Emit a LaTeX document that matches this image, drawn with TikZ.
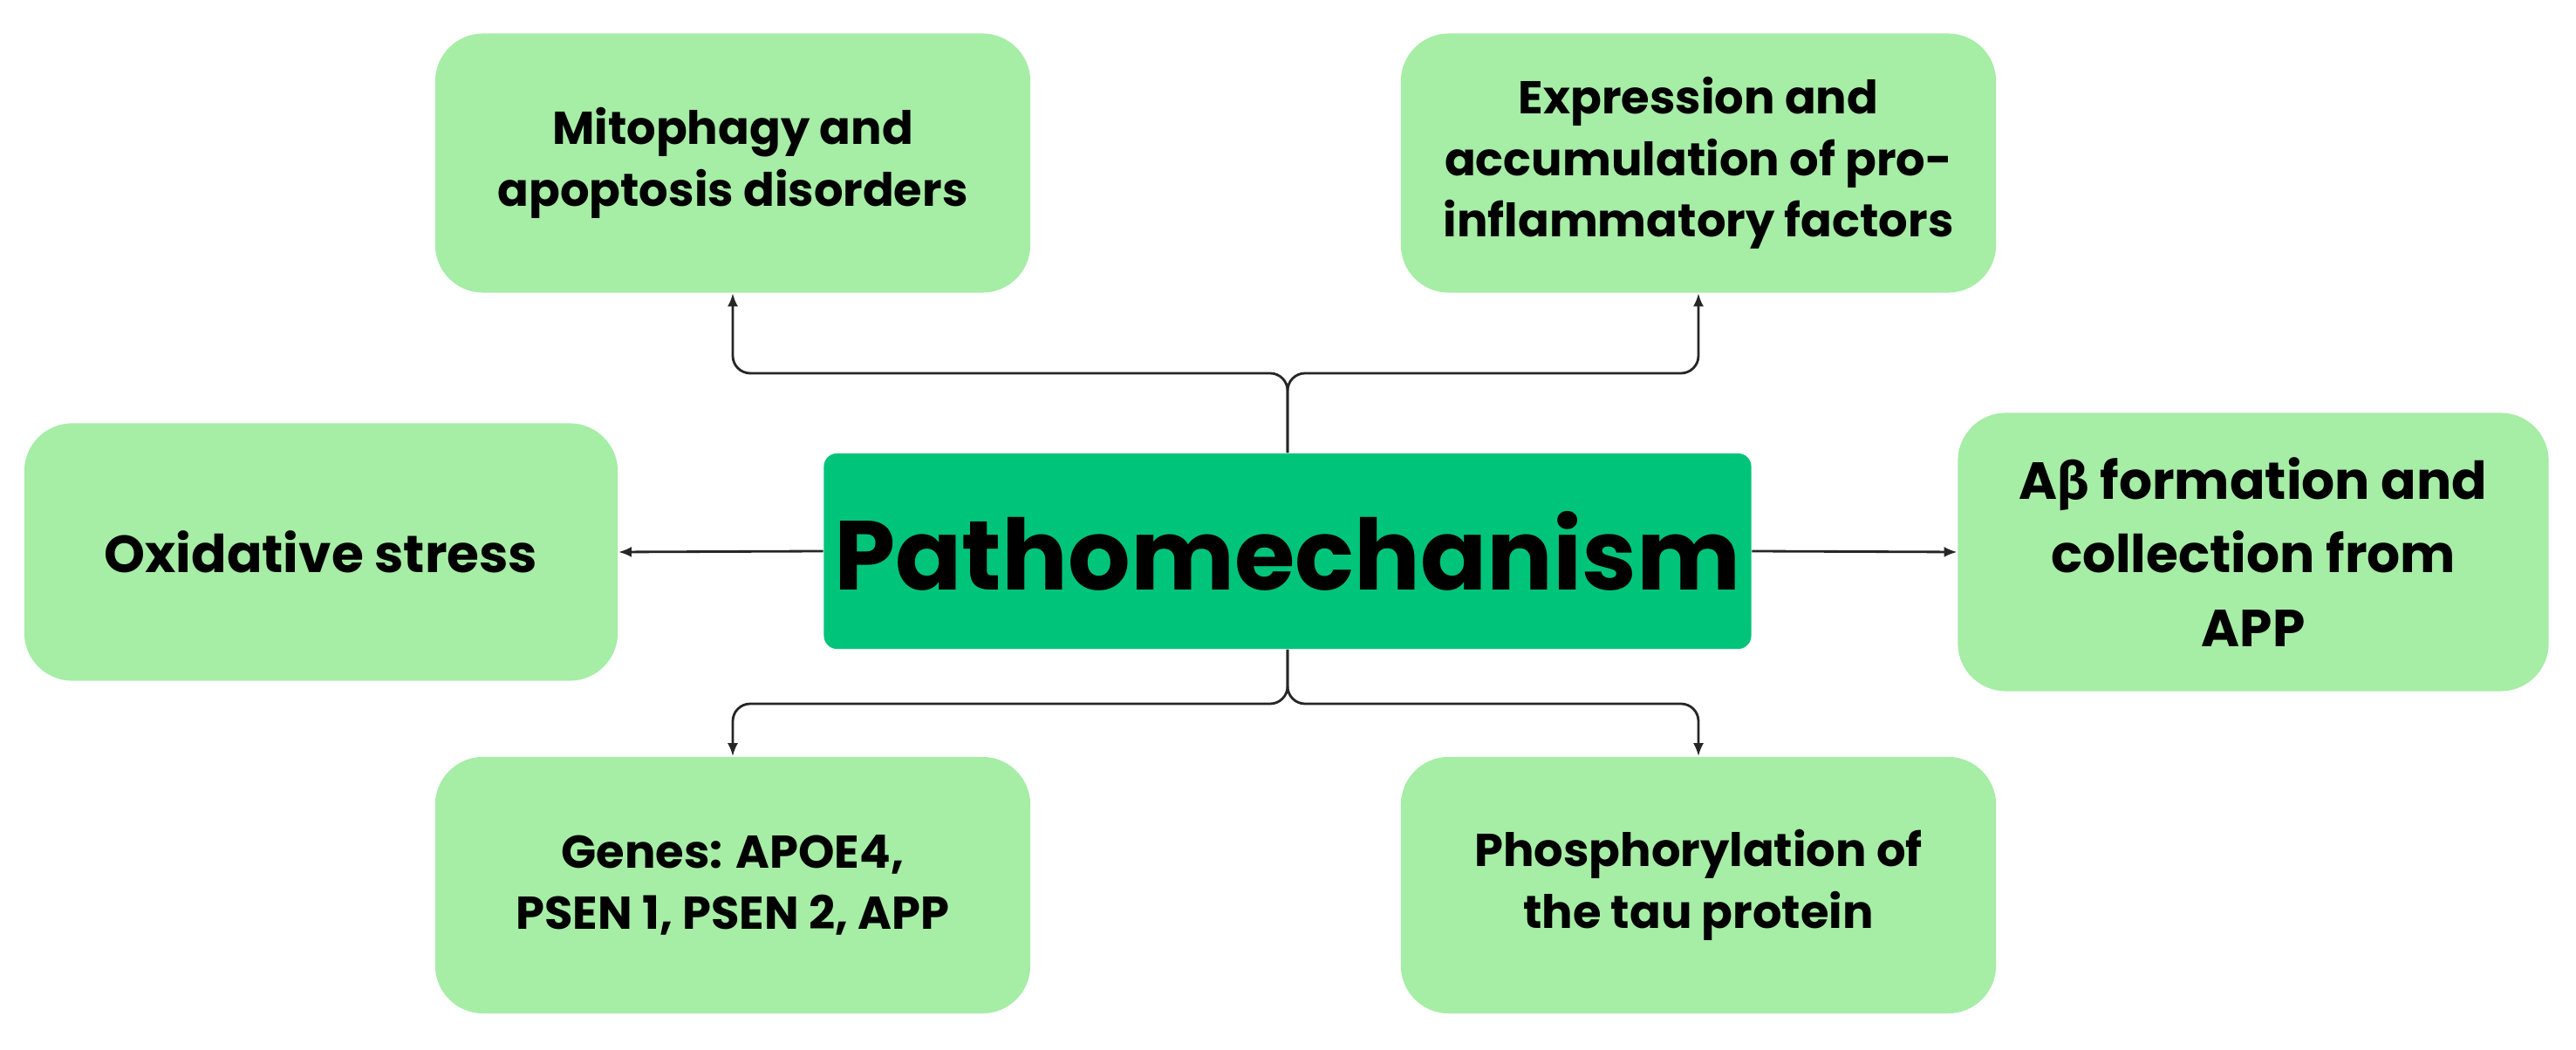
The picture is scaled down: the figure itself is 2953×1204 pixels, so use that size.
\documentclass[tikz,border=0pt]{standalone}
\usepackage{fontspec}
\setmainfont{Poppins}
\newfontfamily\greekfont{Fira Sans}
\usetikzlibrary{positioning,calc,arrows.meta}
\definecolor{leafgreen}{HTML}{A6EDA6}
\definecolor{coregreen}{HTML}{00C47A}
\tikzset{
    cause/.style={fill=leafgreen,rounded corners=0.55cm,align=center,
        font=\bfseries\fontsize{15}{20}\selectfont,inner sep=0pt},
    core/.style={fill=coregreen,rounded corners=0.15cm,
        font=\bfseries\fontsize{32}{38}\selectfont},
    link/.style={draw=black!85,line width=0.8pt,-{Latex[length=1.5mm,width=1.2mm]},
        rounded corners=0.2cm}
}
\begin{document}
\begin{tikzpicture}[x=0.01cm,y=-0.01cm]
    \useasboundingbox (0,0) rectangle (2953,1204);
    % Boxes
    \node (mech) [core,minimum width=9.45cm,minimum height=2.24cm] at (1476,632) {Pathomechanism};
    \node (mito) [cause,minimum width=6.82cm,minimum height=2.97cm] at (840,187)
        {Mitophagy and\\apoptosis disorders};
    \node (infl) [cause,minimum width=6.82cm,minimum height=2.97cm] at (1947,187)
        {Expression and\\accumulation of pro-\\inflammatory factors};
    \node (oxid) [cause,minimum width=6.8cm,minimum height=2.95cm,
        font=\bfseries\fontsize{17}{22}\selectfont] at (368,633) {Oxidative stress};
    \node (abeta) [cause,minimum width=6.77cm,minimum height=3.19cm,
        font=\bfseries\fontsize{17}{24}\selectfont] at (2583,633)
        {A{\greekfont β} formation and\\collection from\\APP};
    \node (gene) [cause,minimum width=6.82cm,minimum height=2.94cm] at (840,1015)
        {Genes: APOE4,\\PSEN 1, PSEN 2, APP};
    \node (tau) [cause,minimum width=6.82cm,minimum height=2.94cm] at (1947,1015)
        {Phosphorylation of\\the tau protein};
    % Connectors
    \coordinate (up) at (1476,428);
    \coordinate (down) at (1476,807);
    \draw [link] (mech.north) -- (up) -| (mito.south);
    \draw [link] (mech.north) -- (up) -| (infl.south);
    \draw [link] (mech.south) -- (down) -| (gene.north);
    \draw [link] (mech.south) -- (down) -| (tau.north);
    \draw [link] (mech.west) -- (oxid.east);
    \draw [link] (mech.east) -- (abeta.west);
\end{tikzpicture}
\end{document}
